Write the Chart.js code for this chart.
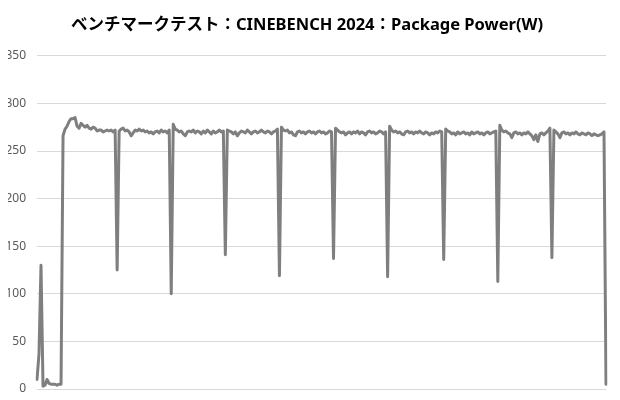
<!DOCTYPE html>
<html>
<head>
<meta charset="utf-8">
<script src="https://cdn.jsdelivr.net/npm/chart.js@4/dist/chart.umd.min.js"></script>
<style>
  body { margin: 0; background: #fff; }
</style>
</head>
<body>
<canvas id="chart" width="620" height="400"></canvas>
<script>
const chartTitle = 'ベンチマークテスト：CINEBENCH 2024：Package Power(W)';
const yTicks = [0, 50, 100, 150, 200, 250, 300, 350];

// package power samples
const power = [
    10, 37, 130, 3, 4, 10, 6, 5, 5, 5, 4, 5, 5, 266, 273, 276, 281, 284, 284, 285,
    276, 274, 279, 277, 275, 277, 274, 273, 275, 274, 271, 272, 272, 270, 271, 272, 271, 272, 270, 272,
    125, 271, 273, 274, 271, 272, 270, 266, 269, 272, 271, 273, 271, 272, 270, 271, 269, 270, 268, 270,
    271, 269, 272, 270, 271, 269, 272, 100, 278, 273, 272, 270, 271, 268, 266, 270, 271, 270, 272, 269,
    271, 270, 268, 271, 269, 272, 270, 268, 271, 269, 270, 272, 270, 271, 141, 272, 271, 270, 268, 270,
    266, 269, 271, 270, 269, 272, 270, 268, 270, 271, 269, 270, 272, 270, 269, 271, 270, 268, 270, 271,
    273, 119, 275, 272, 271, 272, 269, 270, 267, 266, 270, 271, 269, 270, 268, 270, 271, 269, 270, 268,
    270, 271, 269, 270, 268, 269, 271, 270, 137, 274, 272, 270, 269, 270, 267, 269, 270, 268, 270, 269,
    271, 268, 270, 269, 267, 270, 271, 269, 270, 268, 269, 271, 270, 268, 270, 118, 276, 272, 270, 271,
    269, 270, 268, 267, 270, 271, 269, 270, 268, 270, 269, 271, 269, 268, 270, 269, 267, 269, 268, 270,
    269, 271, 270, 136, 273, 271, 270, 268, 269, 267, 270, 268, 269, 270, 268, 269, 267, 270, 268, 269,
    270, 268, 269, 267, 269, 270, 268, 269, 270, 271, 113, 277, 272, 270, 271, 269, 268, 264, 269, 270,
    268, 269, 267, 269, 268, 270, 268, 266, 262, 267, 260, 268, 269, 267, 269, 271, 274, 138, 272, 270,
    268, 264, 269, 270, 268, 269, 267, 269, 268, 270, 268, 267, 269, 268, 267, 269, 268, 266, 268, 267,
    266, 267, 268, 270, 5
];
const seconds = power.map((v, i) => i + 1);

new Chart(document.getElementById('chart'), {
    type: 'line',
    data: {
        labels: seconds,
        datasets: [{
            label: 'Package Power(W)',
            data: power,
            borderColor: '#7f7f7f',
            borderWidth: 3,
            borderJoinStyle: 'round',
            borderCapStyle: 'round',
            pointRadius: 0,
            tension: 0,
            fill: false
        }]
    },
    options: {
        responsive: false,
        animation: false,
        layout: {
            padding: { left: 8, right: 14, top: 0, bottom: 11 }
        },
        plugins: {
            legend: { display: false },
            tooltip: { enabled: false },
            title: {
                display: true,
                text: chartTitle,
                color: '#000',
                font: { family: '"Noto Sans", "Noto Sans CJK JP"', size: 16.5, weight: 'bold' },
                padding: { top: 15, bottom: 21 }
            }
        },
        scales: {
            x: {
                display: false,
                offset: false
            },
            y: {
                min: 0,
                max: 350,
                afterBuildTicks: (scale) => {
                    scale.ticks = yTicks.map(v => ({ value: v }));
                },
                afterFit: (scale) => {
                    scale.width = 29;
                    // keep the tick padding from pushing the plot area in vertically
                    scale.paddingTop = 0;
                    scale.paddingBottom = 0;
                },
                border: { display: false },
                grid: { color: '#d9d9d9', lineWidth: 1, drawTicks: false },
                ticks: {
                    color: '#595959',
                    padding: 11,
                    font: { family: '"Noto Sans", "Noto Sans CJK JP"', size: 12 }
                }
            }
        }
    }
});
</script>
</body>
</html>
